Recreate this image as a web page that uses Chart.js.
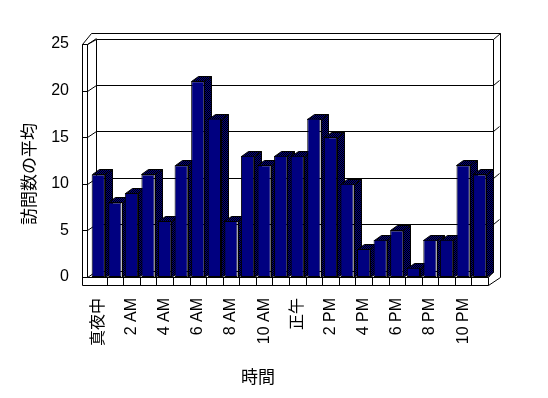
<!DOCTYPE html>
<html>
<head>
<meta charset="utf-8">
<script src="https://cdn.jsdelivr.net/npm/chart.js@4/dist/chart.umd.min.js"></script>
<style>
html,body{margin:0;padding:0;background:#fff;}
#wrap{width:548px;height:398px;}
</style>
</head>
<body>
<div id="wrap"><canvas id="c" width="548" height="398"></canvas></div>
<script>
const categories = ['真夜中','1 AM','2 AM','3 AM','4 AM','5 AM','6 AM','7 AM','8 AM','9 AM','10 AM','11 AM','正午','1 PM','2 PM','3 PM','4 PM','5 PM','6 PM','7 PM','8 PM','9 PM','10 PM','11 PM'];
const visits = [11,8,9,11,6,12,21,17,6,13,12,13,13,17,15,10,3,4,5,1,4,4,12,11];
const yTicks = [0,5,10,15,20,25];
const yTitle = '訪問数の平均';
const xTitle = '時間';

const LATIN = '"Liberation Sans", Arial, sans-serif';
const MIXED = '"Liberation Sans", "Noto Sans CJK JP", sans-serif';
const CJK = '"Noto Sans CJK JP", "Liberation Sans", sans-serif';

function makePattern(ctx){
  const pc = document.createElement('canvas'); pc.width = 2; pc.height = 2;
  const p = pc.getContext('2d');
  p.fillStyle = '#000080'; p.fillRect(0,0,2,2);
  p.fillStyle = '#000000'; p.fillRect(0,0,1,1); p.fillRect(1,1,1,1);
  return ctx.createPattern(pc,'repeat');
}

const r = v => Math.round(v) + 0.5;
function line(ctx, x1, y1, x2, y2){
  ctx.beginPath(); ctx.moveTo(r(x1), r(y1)); ctx.lineTo(r(x2), r(y2)); ctx.stroke();
}
function poly(ctx, pts, fill){
  ctx.beginPath();
  pts.forEach((p,i)=>{ if(i===0) ctx.moveTo(r(p[0]),r(p[1])); else ctx.lineTo(r(p[0]),r(p[1])); });
  ctx.closePath();
  if(fill){ ctx.fillStyle = fill; ctx.fill(); }
  ctx.stroke();
}

const threeD = {
  id: 'threeD',
  beforeDatasetsDraw(chart){
    const ctx = chart.ctx;
    const a = chart.chartArea;
    const ys = chart.scales.y, xs = chart.scales.x;
    const L = a.left, R = a.right, T = a.top, B = a.bottom;
    const wdx = 9, wdy = -6;
    const FL = L - 3, FLo = L - 8;
    const BL = FL + wdx, BR = R + 5, BT = T - 5, BB = B + wdy;
    ctx.save();
    ctx.strokeStyle = '#000'; ctx.lineWidth = 1;
    // back wall
    line(ctx, BL, BT, BR, BT);
    line(ctx, BR, BT, BR, BB);
    line(ctx, BL, BT, BL, BB);
    line(ctx, BL, BB, BR, BB);
    // outer back top & right slab
    line(ctx, BL - 5, T - 11, R + 12, T - 11);
    line(ctx, BR, BT, R + 12, T - 11);
    line(ctx, R + 12, T - 11, R + 12, B);
    line(ctx, R + 12, B, R, B + 8);
    line(ctx, BR, BB, R, B);
    // left wall
    line(ctx, FLo, T, FLo, B + 8);
    line(ctx, FL, T, FL, B);
    line(ctx, FLo, T, FL, T);
    line(ctx, FLo, T, BL - 5, T - 11);
    line(ctx, FL, T, BL, BT);
    // gridlines on walls
    yTicks.forEach(v => {
      const y = ys.getPixelForValue(v);
      if (v > 0 && v < 25) {
        line(ctx, BL, y + wdy, BR, y + wdy);
        line(ctx, BR, y + wdy, R + 11, y + wdy - 5);
      }
      line(ctx, FLo, y, FL, y);
      line(ctx, FL, y, BL, y + wdy);
    });
    // floor front
    line(ctx, FL, B, R, B);
    line(ctx, FLo, B + 8, R, B + 8);
    line(ctx, R, B, R, B + 8);
    for (let i = 1; i < categories.length; i++) {
      const x = (xs.getPixelForValue(i - 1) + xs.getPixelForValue(i)) / 2;
      line(ctx, x, B, x, B + 8);
    }
    // bar sides and tops
    const pat = makePattern(ctx);
    const meta = chart.getDatasetMeta(0);
    const dx = 7, dy = -5;
    meta.data.forEach(el => {
      const p = el.getProps(['x','y','base','width'], true);
      const xl = p.x - p.width/2, xr = p.x + p.width/2, yt = p.y, yb = p.base;
      poly(ctx, [[xr,yt],[xr+dx,yt+dy],[xr+dx,yb+dy],[xr,yb]], pat);
      poly(ctx, [[xl,yt],[xl+dx,yt+dy],[xr+dx,yt+dy],[xr,yt]], pat);
    });
    ctx.restore();
  },
  afterDraw(chart){
    const ctx = chart.ctx;
    ctx.save();
    ctx.fillStyle = '#000';
    ctx.font = '17px ' + CJK;
    ctx.textAlign = 'center'; ctx.textBaseline = 'middle';
    ctx.fillText(xTitle, 258, 377);
    ctx.translate(29, 174);
    ctx.rotate(-Math.PI/2);
    ctx.fillText(yTitle, 0, 0);
    ctx.restore();
  }
};

new Chart(document.getElementById('c'), {
  type: 'bar',
  data: {
    labels: categories,
    datasets: [{
      data: visits,
      backgroundColor: '#000080',
      borderColor: '#000000',
      borderWidth: 1,
      borderSkipped: false,
      barPercentage: 0.8,
      categoryPercentage: 1.0
    }]
  },
  options: {
    responsive: false,
    animation: false,
    devicePixelRatio: 1,
    layout: { padding: { left: 0, top: 44, right: 60, bottom: 0 } },
    plugins: { legend: { display: false }, tooltip: { enabled: false } },
    scales: {
      x: {
        grid: { display: false, drawTicks: false },
        border: { display: false },
        afterFit: s => { s.height = 121; },
        ticks: {
          autoSkip: false, maxRotation: 90, minRotation: 90, padding: 21,
          color: '#000',
          font: { family: MIXED, size: 16 },
          callback: function(v, i){ return i % 2 === 0 ? categories[i] : ''; }
        }
      },
      y: {
        min: 0, max: 25,
        grid: { display: false, drawTicks: false },
        border: { display: false },
        afterFit: s => { s.width = 90; },
        ticks: {
          stepSize: 5, padding: 21, color: '#000',
          font: { family: LATIN, size: 16 }
        }
      }
    }
  },
  plugins: [threeD]
});
</script>
</body>
</html>
